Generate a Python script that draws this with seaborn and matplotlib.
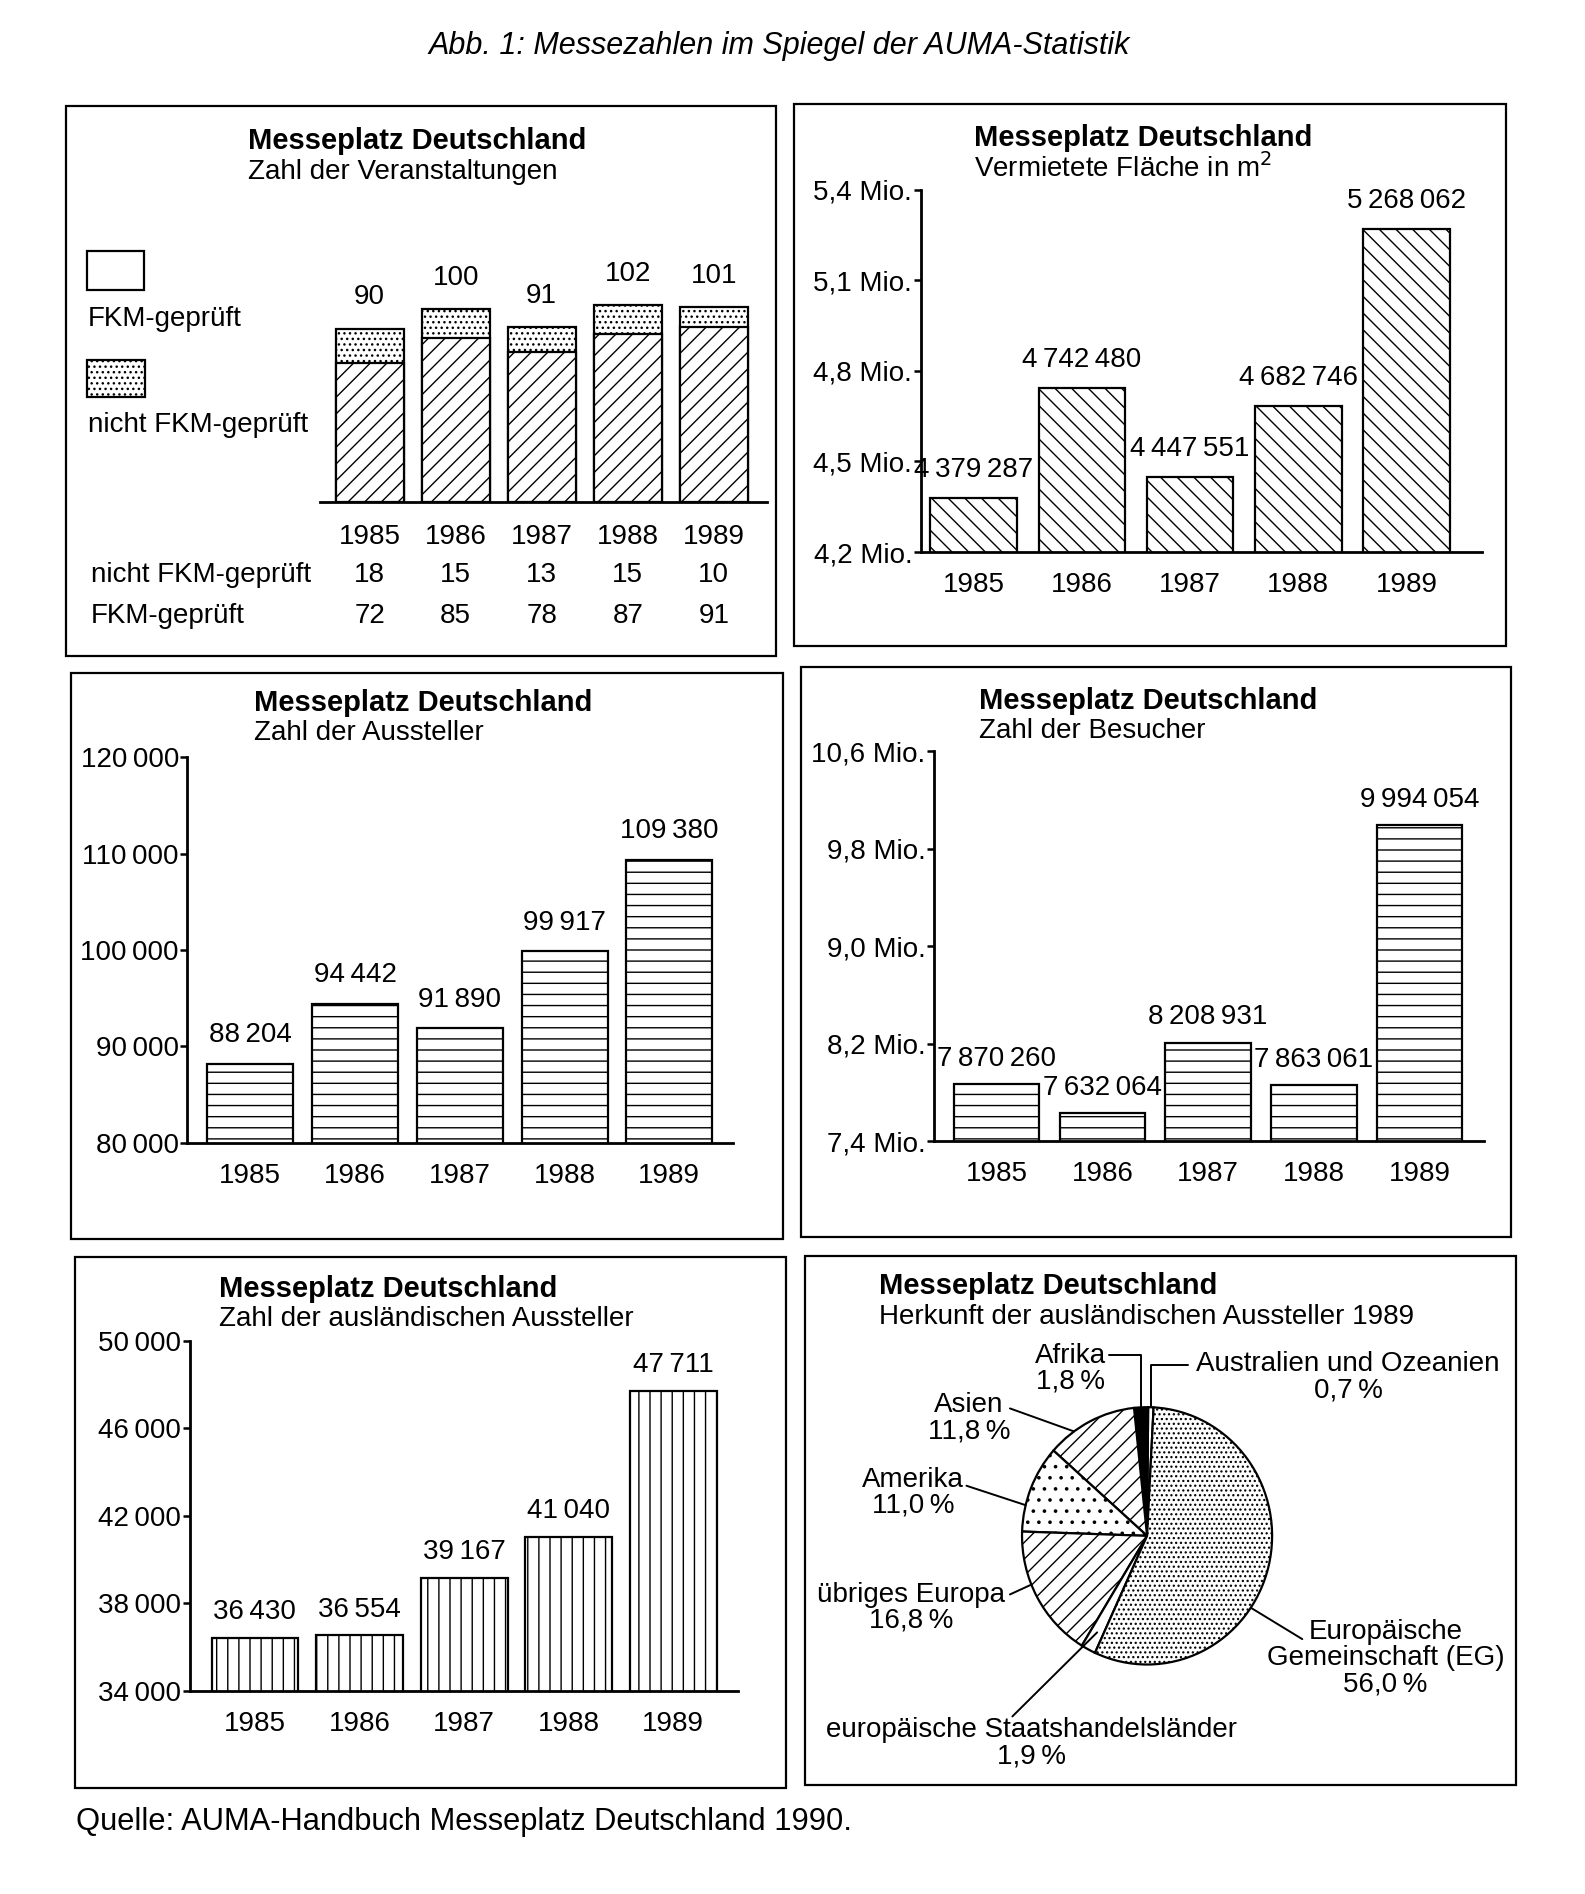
import numpy as np
import pandas as pd
import seaborn as sns
import matplotlib.pyplot as plt
import matplotlib.transforms as mtransforms
from matplotlib.patches import Rectangle

# 1. Data
years = ['1985', '1986', '1987', '1988', '1989']
events_not_fkm = [18, 15, 13, 15, 10]
events_fkm = [72, 85, 78, 87, 91]
area_m2 = [4379287, 4742480, 4447551, 4682746, 5268062]
exhibitors = [88204, 94442, 91890, 99917, 109380]
visitors = [7870260, 7632064, 8208931, 7863061, 9994054]
foreign_exhibitors = [36430, 36554, 39167, 41040, 47711]

area_ticks = [4.2e6, 4.5e6, 4.8e6, 5.1e6, 5.4e6]
area_ticklabels = ['4,2 Mio.', '4,5 Mio.', '4,8 Mio.', '5,1 Mio.', '5,4 Mio.']
exhibitor_ticks = [80000, 90000, 100000, 110000, 120000]
visitor_ticks = [7.4e6, 8.2e6, 9.0e6, 9.8e6, 10.6e6]
visitor_ticklabels = ['7,4 Mio.', '8,2 Mio.', '9,0 Mio.', '9,8 Mio.', '10,6 Mio.']
foreign_ticks = [34000, 38000, 42000, 46000, 50000]

# pie slices, counter-clockwise from the top
origin_labels = ['Australien und Ozeanien', 'Afrika', 'Asien', 'Amerika',
                 'übriges Europa', 'europäische Staatshandelsländer',
                 'Europäische\nGemeinschaft (EG)']
origin_share = [0.7, 1.8, 11.8, 11.0, 16.8, 1.9, 56.0]

# 2. Style
sns.set_theme(style='white', rc={'axes.edgecolor': 'black', 'text.color': 'black',
                                 'xtick.color': 'black', 'ytick.color': 'black'})
plt.rcParams['font.family'] = ['Liberation Sans', 'DejaVu Sans']
plt.rcParams['hatch.linewidth'] = 0.5
plt.rcParams['hatch.color'] = 'black'

FS = 10
W, H = 1312, 1568  # layout grid (reference pixels)


def rect(x0, y0, x1, y1):
    return [x0 / W, 1 - y1 / H, (x1 - x0) / W, (y1 - y0) / H]


def fx(x):
    return x / W


def fy(y):
    return 1 - y / H


def fmt(v):
    return f'{v:,}'.replace(',', '\u2009')


def pct(p):
    return f'{p:.1f}'.replace('.', ',') + '\u2009%'


fig = plt.figure(figsize=(7.925, 9.47), dpi=200)

fig.text(fx(645), fy(38), 'Abb. 1: Messezahlen im Spiegel der AUMA-Statistik',
         fontsize=11, style='italic', ha='center', va='center')
fig.text(fx(63), fy(1508), 'Quelle: AUMA-Handbuch Messeplatz Deutschland 1990.',
         fontsize=11.1, va='center')

frames = [(55, 88, 642, 543), (657, 86, 1247, 535), (59, 557, 648, 1026),
          (663, 552, 1251, 1024), (62, 1041, 651, 1480), (666, 1040, 1255, 1478)]
for x0, y0, x1, y1 in frames:
    fig.add_artist(Rectangle((fx(x0), fy(y1)), (x1 - x0) / W, (y1 - y0) / H,
                             transform=fig.transFigure, fill=False, ec='black', lw=0.8))

titles = [(205, 117, 'Zahl der Veranstaltungen'),
          (806, 114, 'Vermietete Fläche in m$^2$'),
          (210, 582, 'Zahl der Aussteller'),
          (810, 580, 'Zahl der Besucher'),
          (181, 1067, 'Zahl der ausländischen Aussteller'),
          (728, 1065, 'Herkunft der ausländischen Aussteller 1989')]
for x, y, sub in titles:
    fig.text(fx(x), fy(y), 'Messeplatz Deutschland', fontsize=10.5,
             fontweight='bold', va='center')
    fig.text(fx(x), fy(y + 25), sub, fontsize=FS, va='center')


def bar_panel(box, values, xlim, ylim, width, hatch, ticks=None, ticklabels=None,
              label_offset=5):
    ax = fig.add_axes(rect(*box))
    sns.barplot(x=years, y=values, ax=ax, color='white', saturation=1,
                width=width, edgecolor='black', linewidth=0.8, hatch=hatch,
                errorbar=None)
    ax.set_xlim(xlim)
    ax.set_ylim(ylim)
    ax.set(xlabel='', ylabel='')
    ax.patch.set_alpha(0)
    ax.spines[['top', 'right']].set_visible(False)
    ax.spines[['left', 'bottom']].set_linewidth(1.0)
    ax.tick_params(axis='x', bottom=False, length=0, pad=7.2, labelsize=FS)
    ax.set_xticks(range(len(years)))
    ax.set_xticklabels(years)
    if ticks is not None:
        ax.set_yticks(ticks)
        ax.set_yticklabels(ticklabels)
        ax.tick_params(axis='y', left=True, length=2.5, width=0.9, pad=0.5,
                       labelsize=FS)
    for i, v in enumerate(values):
        ax.annotate(fmt(v), (i, v), xytext=(0, label_offset), textcoords='offset points',
                    ha='center', va='bottom', fontsize=FS)
    return ax


# Panel 1: Veranstaltungen (stacked)
events_total = [a + b for a, b in zip(events_not_fkm, events_fkm)]
ax1 = fig.add_axes(rect(265, 200, 635, 416))
sns.barplot(x=years, y=events_total, ax=ax1, color='white', saturation=1, width=0.79,
            edgecolor='black', linewidth=0.8, hatch='......', errorbar=None)
sns.barplot(x=years, y=events_fkm, ax=ax1, color='white', saturation=1, width=0.79,
            edgecolor='black', linewidth=0.8, hatch='////', errorbar=None)
ax1.set_xlim(-0.575, 4.62)
ax1.set_ylim(0, 135)
ax1.set(xlabel='', ylabel='')
ax1.patch.set_alpha(0)
ax1.spines[['top', 'right', 'left']].set_visible(False)
ax1.spines['bottom'].set_linewidth(1.0)
ax1.set_yticks([])
ax1.set_xticks(range(len(years)))
ax1.set_xticklabels(years)
ax1.tick_params(axis='x', bottom=False, length=0, pad=7.8, labelsize=FS)
for i, v in enumerate(events_total):
    ax1.annotate(str(v), (i, v), xytext=(0, 6.5), textcoords='offset points',
                 ha='center', va='bottom', fontsize=FS)
trans1 = mtransforms.blended_transform_factory(ax1.transData, fig.transFigure)
for row_y, row_label, row_vals in [(476, 'nicht FKM-geprüft', events_not_fkm),
                                   (510, 'FKM-geprüft', events_fkm)]:
    fig.text(fx(75), fy(row_y), row_label, fontsize=FS, va='center')
    for i, v in enumerate(row_vals):
        ax1.text(i, fy(row_y), str(v), transform=trans1, ha='center', va='center',
                 fontsize=FS)
# legend boxes
fig.add_artist(Rectangle((fx(72), fy(240)), 47 / W, 32 / H, transform=fig.transFigure,
                         fc='white', ec='black', lw=0.8))
fig.add_artist(Rectangle((fx(72), fy(329)), 48 / W, 31 / H, transform=fig.transFigure,
                         fc='white', ec='black', lw=0.8, hatch='......'))
fig.text(fx(73), fy(264), 'FKM-geprüft', fontsize=FS, va='center')
fig.text(fx(73), fy(352), 'nicht FKM-geprüft', fontsize=FS, va='center')

# Panel 2: Fläche
bar_panel((762, 157, 1227, 457), area_m2, (-0.49, 4.70), (4.2e6, 5.4e6), 0.8, '\\\\\\\\',
          area_ticks, area_ticklabels, label_offset=5.5)

# Panel 3: Aussteller
bar_panel((155, 627, 607, 946), exhibitors, (-0.6, 4.61), (80000, 120000), 0.82, '---',
          exhibitor_ticks, [fmt(t) for t in exhibitor_ticks], label_offset=5.5)

# Panel 4: Besucher
bar_panel((773, 622, 1228, 945), visitors, (-0.594, 4.606), (7.4e6, 10.6e6), 0.81, '---',
          visitor_ticks, visitor_ticklabels, label_offset=4.5)

# Panel 5: ausländische Aussteller
bar_panel((157, 1110, 611, 1400), foreign_exhibitors, (-0.624, 4.62), (34000, 50000), 0.83,
          '|||', foreign_ticks, [fmt(t) for t in foreign_ticks], label_offset=4.5)

# Panel 6: pie (slightly elliptical)
ax6 = fig.add_axes(rect(846, 1165, 1053, 1378))
pie_colors = ['white', 'black', 'white', 'white', 'white', 'white', 'white']
pie_hatches = ['', '', '////', '...', '////', '', '.......']
wedges, _ = ax6.pie(origin_share, startangle=87, counterclock=True, colors=pie_colors,
                    wedgeprops=dict(edgecolor='black', linewidth=0.8))
for w, h in zip(wedges, pie_hatches):
    w.set_hatch(h)
ax6.set_aspect('auto')
ax6.set_xlim(-1, 1)
ax6.set_ylim(-1, 1)

label_pos = [(1116, 1140), (886, 1133), (802, 1174), (756, 1236), (754, 1331),
             (854, 1443), (1147, 1373)]
leader_start = [(983, 1130), (918, 1122), (836, 1166), (800, 1230), (836, 1320),
                (838, 1421), (1078, 1357)]
anchor_frac = [0.5, 0.5, 0.7, 0.7, 0.4, 0.5, 0.4]
anchor_r = [1.0, 1.0, 1.0, 1.0, 1.0, 0.85, 1.0]
elbow = [True, True, False, False, False, False, False]

for w, lab, share, (tx, ty), (sx, sy), f, r, el in zip(
        wedges, origin_labels, origin_share, label_pos, leader_start,
        anchor_frac, anchor_r, elbow):
    fig.text(fx(tx), fy(ty), f'{lab}\n{pct(share)}', fontsize=FS, ha='center',
             va='center', multialignment='center', linespacing=1.0)
    theta = np.deg2rad(w.theta1 + f * (w.theta2 - w.theta1))
    conn = 'angle,angleA=0,angleB=90,rad=0' if el else 'arc3'
    ax6.annotate('', xy=(r * np.cos(theta), r * np.sin(theta)), xycoords='data',
                 xytext=(fx(sx), fy(sy)), textcoords='figure fraction',
                 arrowprops=dict(arrowstyle='-', color='black', lw=0.7,
                                 shrinkA=0, shrinkB=0, connectionstyle=conn))

fig.savefig('out.png', dpi=200)
plt.close()
print('Saved: out.png')
